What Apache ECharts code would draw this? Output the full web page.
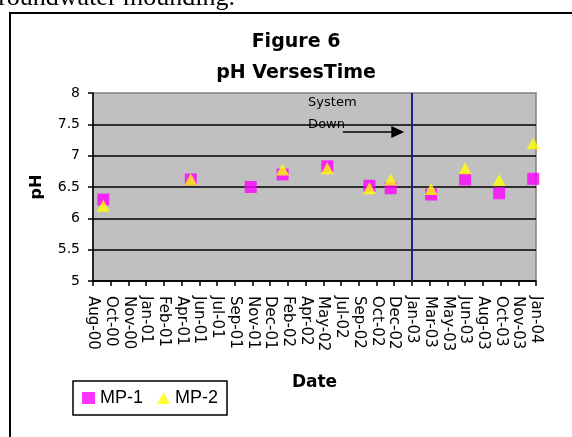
<!DOCTYPE html>
<html>
<head>
<meta charset="utf-8">
<script src="https://cdn.jsdelivr.net/npm/echarts@6/dist/echarts.min.js"></script>
<style>
  html, body { margin: 0; padding: 0; background: #fff; }
  #chart { width: 572px; height: 437px; }
</style>
</head>
<body>
<div id="chart"></div>
<script>
// sample dates and pH readings
const sampleDates = [
  "2000-09-10", "2001-05-15", "2001-10-31", "2002-01-29", "2002-06-04", "2002-10-01",
  "2002-11-30", "2003-03-24", "2003-06-28", "2003-10-02", "2004-01-06",
];
const mp1 = [6.3, 6.62, 6.5, 6.7, 6.83, 6.52, 6.48, 6.38, 6.62, 6.4, 6.63];
const mp2 = [6.2, 6.62, null, 6.78, 6.8, 6.48, 6.62, 6.47, 6.8, 6.61, 7.2];

// date axis labels (Excel date axis, major unit 50 days)
const xLabels = [
  "Aug-00", "Oct-00", "Nov-00", "Jan-01", "Feb-01", "Apr-01", "Jun-01", "Jul-01", "Sep-01",
  "Nov-01", "Dec-01", "Feb-02", "Apr-02", "May-02", "Jul-02", "Sep-02", "Oct-02", "Dec-02",
  "Jan-03", "Mar-03", "May-03", "Jun-03", "Aug-03", "Oct-03", "Nov-03", "Jan-04",
];
const xMin = 36750; // Excel serial for 12-Aug-2000
const xStep = 50;
const xMax = xMin + xStep * (xLabels.length - 1);

const systemDownDate = "2003-01-29";

function toSerial(s) {
  const [y, m, d] = s.split("-").map(Number);
  return Date.UTC(y, m - 1, d) / 86400000 + 25569;
}

function pairs(values) {
  return sampleDates
    .map((d, i) => [toSerial(d), values[i]])
    .filter((p) => p[1] != null);
}

const downX = toSerial(systemDownDate);

const myChart = echarts.init(document.getElementById("chart"));

myChart.setOption({
  animation: false,
  title: {
    text: "Figure 6\npH VersesTime",
    left: 296,
    top: 27,
    padding: 0,
    textAlign: "center",
    textStyle: {
      fontFamily: "DejaVu Sans",
      fontWeight: "bold",
      fontSize: 19,
      lineHeight: 31,
      color: "#000",
    },
  },
  graphic: [
    {
      type: "text",
      style: {
        x: 235,
        y: 11,
        text: "groundwater mounding.",
        font: '26px "Liberation Serif"',
        fill: "#000",
        align: "right",
        verticalAlign: "bottom",
      },
    },
    {
      type: "rect",
      shape: { x: 10, y: 13, width: 700, height: 600 },
      style: { fill: "none", stroke: "#000", lineWidth: 2 },
    },
  ],
  legend: {
    left: 73,
    top: 381,
    orient: "horizontal",
    padding: [8, 9],
    itemGap: 14,
    itemWidth: 13,
    itemHeight: 12,
    borderColor: "#000",
    borderWidth: 1.5,
    backgroundColor: "#fff",
    textStyle: { fontFamily: "Liberation Sans", fontSize: 18, color: "#000" },
    data: [
      { name: "MP-1", icon: "rect" },
      { name: "MP-2", icon: "triangle" },
    ],
  },
  grid: {
    left: 93,
    right: 36,
    top: 93,
    height: 188,
    show: true,
    backgroundColor: "#c0c0c0",
    borderColor: "#808080",
    borderWidth: 1.5,
  },
  xAxis: {
    type: "value",
    min: xMin,
    max: xMax,
    interval: xStep,
    name: "Date",
    nameLocation: "middle",
    nameGap: 93,
    nameTextStyle: {
      fontFamily: "DejaVu Sans",
      fontWeight: "bold",
      fontSize: 17,
      color: "#000",
    },
    axisLine: { lineStyle: { color: "#000", width: 1.5 } },
    axisTick: { show: true, inside: false, length: 5, lineStyle: { color: "#000", width: 1.5 } },
    splitLine: { show: false },
    axisLabel: {
      rotate: -90,
      margin: 15,
      fontFamily: "DejaVu Sans",
      fontSize: 15,
      color: "#000",
      formatter: (v) => xLabels[Math.round((v - xMin) / xStep)] || "",
    },
  },
  yAxis: {
    type: "value",
    min: 5,
    max: 8,
    interval: 0.5,
    name: "pH",
    nameLocation: "middle",
    nameGap: 48,
    nameTextStyle: {
      fontFamily: "DejaVu Sans",
      fontWeight: "bold",
      fontSize: 16,
      color: "#000",
    },
    axisLine: { show: true, lineStyle: { color: "#000", width: 1.5 } },
    axisTick: { show: true, inside: false, length: 5, lineStyle: { color: "#000", width: 1.5 } },
    splitLine: {
      show: true,
      showMaxLine: false,
      lineStyle: { color: "#000", width: 1.5 },
    },
    axisLabel: {
      margin: 13,
      fontFamily: "DejaVu Sans",
      fontSize: 14,
      color: "#000",
    },
  },
  series: [
    {
      name: "MP-1",
      type: "scatter",
      symbol: "rect",
      symbolSize: 12,
      itemStyle: { color: "#ff00ff" },
      data: pairs(mp1),
      markLine: {
        silent: true,
        symbol: "none",
        label: { show: false },
        lineStyle: { color: "#1f1f96", width: 2, type: "solid" },
        data: [{ xAxis: downX }],
      },
    },
    {
      name: "MP-2",
      type: "scatter",
      symbol: "triangle",
      symbolSize: [13, 12],
      itemStyle: { color: "#ffff00" },
      data: pairs(mp2),
      markLine: {
        silent: true,
        symbol: ["none", "triangle"],
        symbolSize: [12, 13],
        label: { show: false },
        lineStyle: { color: "#000", width: 1.5, type: "solid" },
        data: [[{ coord: [37455, 7.376] }, { coord: [37610, 7.376] }]],
      },
      markPoint: {
        silent: true,
        symbol: "rect",
        symbolSize: 0,
        label: {
          show: true,
          position: "right",
          distance: 0,
          fontFamily: "DejaVu Sans",
          fontSize: 13,
          color: "#000",
        },
        data: [
          { coord: [37357, 7.84], value: "System" },
          { coord: [37357, 7.5], value: "Down" },
        ],
      },
    },
  ],
});
</script>
</body>
</html>
